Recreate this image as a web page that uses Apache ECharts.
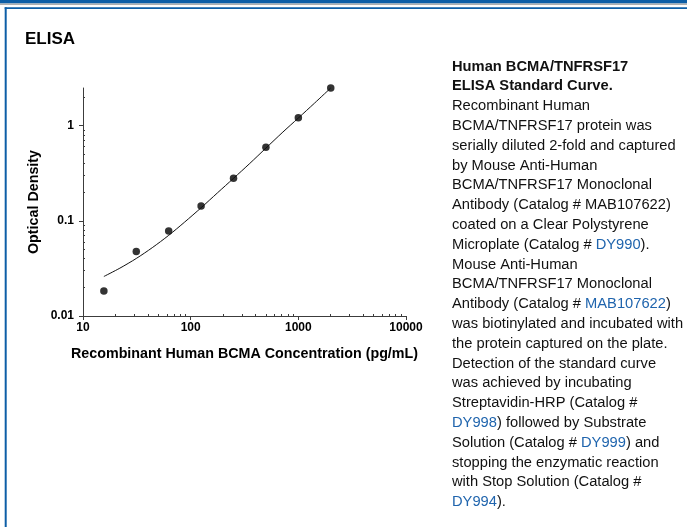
<!DOCTYPE html>
<html>
<head>
<meta charset="utf-8">
<script src="https://cdn.jsdelivr.net/npm/echarts@6/dist/echarts.min.js"></script>
<style>
html,body{margin:0;padding:0;background:#fff;}
#c{width:687px;height:527px;}
</style>
</head>
<body>
<div id="c"></div>
<script>
// Standard points (concentration pg/mL, OD)
var concentrations = [15.625, 31.25, 62.5, 125, 250, 500, 1000, 2000];
var odValues = [0.0183, 0.0477, 0.078, 0.143, 0.279, 0.592, 1.21, 2.48];
// Fitted curve
var curveX = [15.625, 22, 31.25, 44, 62.5, 88, 125, 177, 250, 354, 500, 707, 1000, 1414, 2000];
var curveY = [0.026, 0.0318, 0.0402, 0.0522, 0.0703, 0.097, 0.137, 0.196, 0.279, 0.40, 0.58, 0.84, 1.20, 1.72, 2.48];
// Axis ticks
var xMajor = [10, 100, 1000, 10000];
var xMinor = [20,30,40,50,60,70,80,90,200,300,400,500,600,700,800,900,2000,3000,4000,5000,6000,7000,8000,9000];
var yMajor = [0.01, 0.1, 1];
var yMinor = [0.02,0.03,0.04,0.05,0.06,0.07,0.08,0.09,0.2,0.3,0.4,0.5,0.6,0.7,0.8,0.9,2];

var captionLines = [
  ['Human BCMA/TNFRSF17', true],
  ['ELISA Standard Curve.', true],
  ['Recombinant Human', false],
  ['BCMA/TNFRSF17 protein was', false],
  ['serially diluted 2-fold and captured', false],
  ['by Mouse Anti-Human', false],
  ['BCMA/TNFRSF17 Monoclonal', false],
  ['Antibody (Catalog # MAB107622)', false],
  ['coated on a Clear Polystyrene', false],
  ['Microplate (Catalog # {l|DY990}).', false],
  ['Mouse Anti-Human', false],
  ['BCMA/TNFRSF17 Monoclonal', false],
  ['Antibody (Catalog # {l|MAB107622})', false],
  ['was biotinylated and incubated with', false],
  ['the protein captured on the plate.', false],
  ['Detection of the standard curve', false],
  ['was achieved by incubating', false],
  ['Streptavidin-HRP (Catalog #', false],
  ['{l|DY998}) followed by Substrate', false],
  ['Solution (Catalog # {l|DY999}) and', false],
  ['stopping the enzymatic reaction', false],
  ['with Stop Solution (Catalog #', false],
  ['{l|DY994}).', false]
];

var FONT = '"Liberation Sans", Arial, sans-serif';
var BLUE = '#0d5ea6';
var LINK = '#1f64ad';
var AX = '#3c3c3c';

var graphics = [
  {type:'rect', shape:{x:0,y:0,width:687,height:3.4}, style:{fill:BLUE}, silent:true},
  {type:'rect', shape:{x:0,y:3.4,width:687,height:1.6}, style:{fill:'#b0b0b0'}, silent:true},
  {type:'rect', shape:{x:4.7,y:7.3,width:683,height:1.8}, style:{fill:BLUE}, silent:true},
  {type:'rect', shape:{x:4.7,y:7.3,width:2,height:520}, style:{fill:BLUE}, silent:true},
  {type:'text', left:25, top:31, style:{text:'ELISA', font:'bold 17px ' + FONT, fill:'#000'}}
];
captionLines.forEach(function(l, i){
  graphics.push({
    type:'text', left:452, top: 59 + i*19.8,
    style:{
      text:l[0],
      fontFamily: FONT, fontSize:14.7, fontWeight: l[1] ? 'bold' : 'normal',
      fill:'#111',
      rich:{ l:{ fill:LINK, fontFamily:FONT, fontSize:14.7 } }
    }
  });
});

var chart = echarts.init(document.getElementById('c'));
chart.setOption({
  animation:false,
  backgroundColor:'#fff',
  graphic: graphics,
  grid:{left:83, top:88, width:323, height:228, containLabel:false},
  xAxis:[{
    type:'log', logBase:10, min:10, max:10000, position:'bottom',
    axisLine:{show:true, lineStyle:{color:AX, width:1}},
    axisTick:{show:true, length:4, inside:false, customValues:xMajor, lineStyle:{color:AX}},
    axisLabel:{show:true, customValues:xMajor, margin:6, color:'#000', fontWeight:'bold', fontSize:12, fontFamily:FONT,
      formatter:function(v){ return String(Math.round(v)); }},
    splitLine:{show:false},
    name:'Recombinant Human BCMA Concentration (pg/mL)', nameLocation:'middle', nameGap:31,
    nameTextStyle:{color:'#000', fontWeight:'bold', fontSize:14.3, fontFamily:FONT}
  },{
    type:'log', logBase:10, min:10, max:10000, position:'bottom',
    axisLine:{show:false},
    axisTick:{show:true, length:2, inside:true, customValues:xMinor, lineStyle:{color:AX}},
    axisLabel:{show:false},
    splitLine:{show:false}
  }],
  yAxis:[{
    type:'log', logBase:10, min:0.01, max:2.48, position:'left',
    axisLine:{show:true, lineStyle:{color:AX, width:1}},
    axisTick:{show:true, length:4, inside:false, customValues:yMajor, lineStyle:{color:AX}},
    axisLabel:{show:true, customValues:yMajor, margin:9, color:'#000', fontWeight:'bold', fontSize:12, fontFamily:FONT,
      formatter:function(v){ return String(+v.toPrecision(3)); }},
    splitLine:{show:false},
    name:'Optical Density', nameLocation:'middle', nameGap:42, nameRotate:90,
    nameTextStyle:{color:'#000', fontWeight:'bold', fontSize:14.3, fontFamily:FONT}
  },{
    type:'log', logBase:10, min:0.01, max:2.48, position:'left', offset:0,
    axisLine:{show:false},
    axisTick:{show:true, length:2, inside:true, customValues:yMinor, lineStyle:{color:AX}},
    axisLabel:{show:false},
    splitLine:{show:false}
  }],
  series:[{
    type:'line', xAxisIndex:0, yAxisIndex:0,
    data: curveX.map(function(x,i){return [x, curveY[i]];}),
    smooth:0.3, symbol:'none', clip:false,
    lineStyle:{color:'#111', width:1}
  },{
    type:'scatter', xAxisIndex:0, yAxisIndex:0,
    data: concentrations.map(function(x,i){return [x, odValues[i]];}),
    symbol:'circle', symbolSize:7.5, clip:false,
    itemStyle:{color:'#000'}
  }]
});
</script>
</body>
</html>
